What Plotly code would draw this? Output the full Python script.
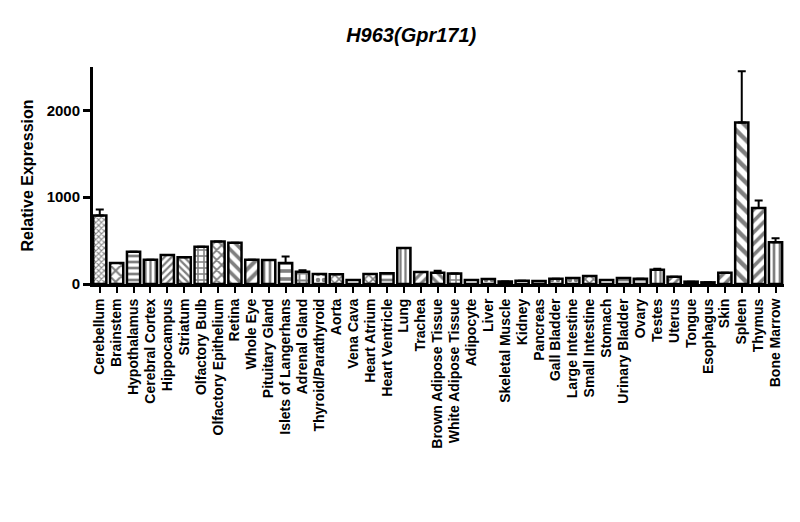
import plotly.graph_objects as go

tissues = ["Cerebellum", "Brainstem", "Hypothalamus", "Cerebral Cortex", "Hippocampus",
           "Striatum", "Olfactory Bulb", "Olfactory Epithelium", "Retina", "Whole Eye",
           "Pituitary Gland", "Islets of Langerhans", "Adrenal Gland", "Thyroid/Parathyroid",
           "Aorta", "Vena Cava", "Heart Atrium", "Heart Ventricle", "Lung", "Trachea",
           "Brown Adipose Tissue", "White Adipose Tissue", "Adipocyte", "Liver",
           "Skeletal Muscle", "Kidney", "Pancreas", "Gall Bladder", "Large Intestine",
           "Small Intestine", "Stomach", "Urinary Bladder", "Ovary", "Testes", "Uterus",
           "Tongue", "Esophagus", "Skin", "Spleen", "Thymus", "Bone Marrow"]

expression = [788, 242, 372, 280, 334, 307, 430, 491, 476, 280,
              277, 242, 142, 115, 111, 46, 116, 125, 415, 138,
              131, 120, 46, 57, 30, 38, 34, 61, 69, 92,
              46, 69, 61, 165, 84, 27, 19, 131, 1860, 877, 480]

sem = [69, 0, 0, 0, 0, 0, 0, 0, 0, 0,
       0, 76, 17, 0, 0, 0, 0, 0, 0, 0,
       22, 0, 0, 0, 0, 0, 0, 0, 0, 0,
       0, 0, 0, 12, 0, 0, 0, 0, 590, 84, 46]

y_ticks = [0, 1000, 2000]

patterns = ["x", "x", "-", "|", "/", "\\", "+", "x", "\\", "/",
            "|", "-", "+", ".", "x", "", "x", "-", "|", "/",
            "\\", "+", "", ".", "", "", "", ".", ".", "x",
            "", "-", "-", "|", "/", "", "", "/", "\\", "/", "|"]
pattern_sizes = [4, 8, 6, 5, 5, 5, 6, 7, 8, 9,
                 6, 8, 7, 6, 6, 6, 6, 6, 5, 7,
                 7, 6, 6, 6, 6, 6, 6, 6, 6, 6,
                 6, 6, 6, 5, 6, 6, 6, 8, 10, 8, 6]

fig = go.Figure()
fig.add_trace(go.Bar(
    x=list(range(len(tissues))),
    y=expression,
    width=0.78,
    marker=dict(
        color="white",
        line=dict(color="black", width=2.5),
        pattern=dict(shape=patterns, size=pattern_sizes, solidity=0.45,
                     fgcolor="black", bgcolor="white", fillmode="overlay"),
    ),
    error_y=dict(type="data", array=sem, symmetric=False,
                 arrayminus=[0] * len(sem), color="black", thickness=2, width=4),
    showlegend=False,
))

family = "Liberation Sans, Arial, sans-serif"
xfont = dict(family=family, size=14, color="black", weight="bold")
yfont = dict(family=family, size=15, color="black", weight="bold")
ytitle_font = dict(family=family, size=16, color="black", weight="bold")

fig.update_layout(
    width=800, height=522,
    plot_bgcolor="white", paper_bgcolor="white",
    margin=dict(l=85, r=24, t=59, b=246),
    title=dict(text="<b><i>H963(Gpr171)</i></b>", x=0.504, xanchor="center", y=0.948, yanchor="middle",
               font=dict(family=family, size=20, color="black")),
    xaxis=dict(
        range=[-0.4, 40.5],
        tickmode="array", tickvals=list(range(len(tissues))), ticktext=tissues,
        tickangle=-90, tickfont=xfont,
        showline=True, linecolor="black", linewidth=3,
        ticks="outside", ticklen=6, tickwidth=2, tickcolor="black",
        showgrid=False, zeroline=False,
    ),
    yaxis=dict(
        range=[0, 2500],
        tickmode="array", tickvals=y_ticks, ticktext=[str(v) for v in y_ticks],
        tickfont=yfont,
        showline=True, linecolor="black", linewidth=3,
        ticks="outside", ticklen=7, tickwidth=3, tickcolor="black",
        showgrid=False, zeroline=False,
        title=dict(text="Relative Expression", font=ytitle_font, standoff=10),
    ),
)

fig.write_html("out.html")
